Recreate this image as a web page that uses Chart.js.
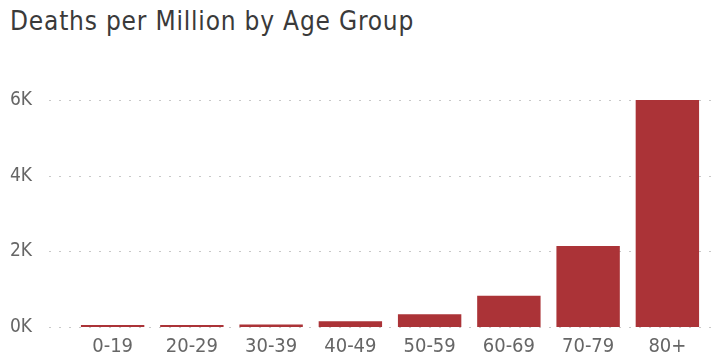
<!DOCTYPE html>
<html>
<head>
<meta charset="utf-8">
<script src="https://cdn.jsdelivr.net/npm/chart.js@4.4.0/dist/chart.umd.min.js"></script>
<style>
  html, body { margin: 0; padding: 0; background: #fff; }
  #wrap { position: relative; width: 720px; height: 356px; overflow: hidden; }
  #title { position: absolute; left: 10px; top: 6px; font-family: "DejaVu Sans Condensed", "DejaVu Sans", sans-serif; font-size: 26px; letter-spacing: 0.8px; color: #3a3a3a; white-space: nowrap; }
  canvas { position: absolute; left: 0; top: 0; }
</style>
</head>
<body>
<div id="wrap">
  <div id="title">Deaths per Million by Age Group</div>
  <canvas id="c" width="720" height="356"></canvas>
</div>
<script>
const categories = ["0-19", "20-29", "30-39", "40-49", "50-59", "60-69", "70-79", "80+"];
const deathsPerMillion = [50, 55, 65, 150, 335, 825, 2140, 6000];
const yTicks = [0, 2000, 4000, 6000];

const FONT = '"DejaVu Sans Condensed", "DejaVu Sans", sans-serif';

const dottedGrid = {
  id: 'dottedGrid',
  beforeDatasetsDraw(chart) {
    const { ctx, chartArea, scales } = chart;
    ctx.save();
    ctx.strokeStyle = '#c8c8c8';
    ctx.lineWidth = 1;
    ctx.setLineDash([2, 8]);
    yTicks.forEach(v => {
      const y = Math.round(scales.y.getPixelForValue(v)) + 0.5;
      ctx.beginPath();
      ctx.moveTo(chartArea.left - 24, y);
      ctx.lineTo(chartArea.right + 8, y);
      ctx.stroke();
    });
    ctx.restore();
  }
};

new Chart(document.getElementById('c'), {
  type: 'bar',
  data: {
    labels: categories,
    datasets: [{
      data: deathsPerMillion,
      backgroundColor: '#AB3337',
      barPercentage: 0.8,
      categoryPercentage: 1.0
    }]
  },
  options: {
    responsive: false,
    animation: false,
    layout: { padding: { top: 100, right: 13, left: 10, bottom: 0 } },
    plugins: { legend: { display: false }, tooltip: { enabled: false } },
    scales: {
      x: {
        grid: { display: false, drawTicks: false },
        border: { display: false },
        ticks: { color: '#666', font: { family: FONT, size: 20 }, padding: 8, maxRotation: 0 },
        afterFit(scale) { scale.height = 29; }
      },
      y: {
        min: 0, max: 6000,
        afterBuildTicks(scale) { scale.ticks = yTicks.map(v => ({ value: v })); },
        grid: { display: false, drawTicks: false },
        border: { display: false },
        ticks: {
          color: '#666', font: { family: FONT, size: 19 }, padding: 4, crossAlign: 'far',
          callback: v => (v / 1000) + 'K'
        },
        afterFit(scale) { scale.width = 63; }
      }
    }
  },
  plugins: [dottedGrid]
});
</script>
</body>
</html>
